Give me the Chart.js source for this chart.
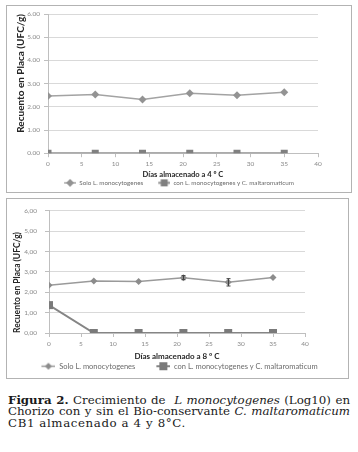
<!DOCTYPE html>
<html><head><meta charset="utf-8">
<script src="https://cdn.jsdelivr.net/npm/chart.js@4.4.0/dist/chart.umd.min.js"></script>
<style>
html,body{margin:0;padding:0;background:#fff;width:358px;height:452px;overflow:hidden;position:relative}
.frame{position:absolute;border:1px solid #b3b3b3;box-sizing:border-box;pointer-events:none}
.cw{position:absolute}
.cw canvas{display:block}
.cap{position:absolute;left:8px;top:395px;width:342px;font-family:'DejaVu Serif',serif;font-size:11.8px;line-height:11.3px;color:#1a1a1a}
.ln{white-space:nowrap;text-align:justify;text-align-last:justify}
.l3{white-space:nowrap;letter-spacing:0.6px}
</style></head><body>
<div class="frame" style="left:6px;top:5px;width:346px;height:188px"></div>
<div class="cw" style="left:7px;top:6px;width:343px;height:190px"><canvas id="c1" width="343" height="190"></canvas></div>
<div class="frame" style="left:6px;top:198px;width:343px;height:181px"></div>
<div class="cw" style="left:7px;top:199px;width:340px;height:181px"><canvas id="c2" width="340" height="181"></canvas></div>
<div class="cap">
<div class="ln"><b>Figura 2.</b> Crecimiento de&nbsp; <i>L monocytogenes</i> (Log10) en</div>
<div class="ln">Chorizo con y sin el Bio-conservante <i>C. maltaromaticum</i></div>
<div class="l3">CB1 almacenado a 4 y 8°C.</div>
</div>
<script>
// ---- data ----
const days = [0, 7, 14, 21, 28, 35];
const seriesNames = ['Solo L. monocytogenes', 'con L. monocytogenes y C. maltaromaticum'];
const solo4 = [2.47, 2.53, 2.32, 2.58, 2.50, 2.63];
const con4 = [0, 0, 0, 0, 0, 0];
const solo8 = [2.35, 2.56, 2.53, 2.72, 2.49, 2.73];
const con8 = [1.37, 0, 0, 0, 0, 0];
const err8 = [0, 0, 0, 0.10, 0.18, 0];
const yTicks4 = ['0.00', '1.00', '2.00', '3.00', '4.00', '5.00', '6.00'];
const yTicks8 = ['0,00', '1,00', '2,00', '3,00', '4,00', '5,00', '6,00'];
const xTitle4 = 'Días almacenado a 4 º C';
const xTitle8 = 'Días almacenado a 8 º C';
const yTitle = 'Recuento en Placa (UFC/g)';

// ---- styles ----
const F = "Lato, 'Liberation Sans', sans-serif";
const TC = '#8a8a8a', AX = '#bfbfbf', GC = '#d9d9d9';

function legendImg(blank, lineW, lineColor, lineWidth, markColor, style, r) {
  const c = document.createElement('canvas');
  c.width = blank + lineW; c.height = Math.ceil(2 * r + 2);
  const g = c.getContext('2d');
  const cy = c.height / 2;
  g.strokeStyle = lineColor; g.lineWidth = lineWidth;
  g.beginPath(); g.moveTo(blank, cy); g.lineTo(blank + lineW, cy); g.stroke();
  const cx = blank + lineW / 2;
  g.fillStyle = markColor; g.beginPath();
  if (style === 'rectRot') { g.moveTo(cx, cy - r); g.lineTo(cx + r, cy); g.lineTo(cx, cy + r); g.lineTo(cx - r, cy); g.closePath(); }
  else { g.rect(cx - r, cy - r, 2 * r, 2 * r); }
  g.fill();
  return c;
}

const errBars = {
  id: 'errBars',
  afterDatasetsDraw(chart, args, opts) {
    if (!opts || !opts.err) return;
    const xs = chart.scales.x, ys = chart.scales.y, ctx = chart.ctx;
    ctx.save(); ctx.strokeStyle = '#404040'; ctx.lineWidth = 1;
    opts.err.forEach((e, i) => {
      if (!e) return;
      const x = Math.round(xs.getPixelForValue(days[i])) + 0.5;
      const yt = ys.getPixelForValue(opts.values[i] + e), yb = ys.getPixelForValue(opts.values[i] - e);
      ctx.beginPath();
      ctx.moveTo(x, yt); ctx.lineTo(x, yb);
      ctx.moveTo(x - 2, yt); ctx.lineTo(x + 2, yt);
      ctx.moveTo(x - 2, yb); ctx.lineTo(x + 2, yb);
      ctx.stroke();
    });
    ctx.restore();
  }
};

function build(id, o) {
  const imgs = [
    legendImg(o.blank, o.lw, o.c1l, 1.5, o.c1m, 'rectRot', o.r1),
    legendImg(o.blank, o.lw, o.c2l, 2, o.c2m, 'rect', o.sq)
  ];
  new Chart(document.getElementById(id), {
    type: 'line',
    data: {
      datasets: [
        { label: seriesNames[0], data: days.map((d, i) => ({ x: d, y: o.solo[i] })),
          borderColor: o.c1l, backgroundColor: o.c1m, pointBackgroundColor: o.c1m, pointBorderColor: o.c1m,
          pointStyle: 'rectRot', pointRadius: o.r1, pointBorderWidth: 0, borderWidth: o.w1, tension: 0 },
        { label: seriesNames[1], data: days.map((d, i) => ({ x: d, y: o.con[i] })),
          borderColor: o.c2l, backgroundColor: o.c2m, pointBackgroundColor: o.c2m, pointBorderColor: o.c2m,
          pointStyle: 'rect', pointRadius: o.sq * Math.SQRT2, pointBorderWidth: 0, borderWidth: o.w2, tension: 0 }
      ]
    },
    options: {
      responsive: false, animation: false, events: [],
      layout: { padding: { left: 0, right: o.rp, top: 8, bottom: 0 } },
      scales: {
        x: { type: 'linear', min: 0, max: 40,
          ticks: { stepSize: 5, font: { size: 6.5, family: F }, color: TC, padding: o.xtp, maxRotation: 0 },
          grid: { drawOnChartArea: false, drawTicks: true, tickLength: 4, color: AX },
          border: { color: AX },
          title: { display: true, text: o.xTitle, font: { size: o.xtf, weight: 'bold', family: F }, color: '#262626', padding: { top: 0, bottom: 0 } },
          afterFit: s => { s.height = o.xh; } },
        y: { min: 0, max: 6,
          ticks: { stepSize: 1, font: { size: 6.5, family: F }, color: TC, padding: o.ytp, callback: v => o.yTicks[Math.round(v)] },
          grid: { color: GC, tickLength: 4, tickColor: AX },
          border: { color: AX },
          title: { display: true, text: yTitle, align: o.yalign, font: { size: o.ytf, weight: 'bold', family: F }, color: '#262626', padding: { top: o.ytpad, bottom: 0 } },
          afterFit: s => { s.width = o.yw; } },
        y2: { position: 'right', display: true, ticks: { display: false }, grid: { display: false, drawTicks: false }, border: { display: false },
          afterFit: s => { s.width = o.dw; } }
      },
      plugins: {
        legend: { position: 'bottom',
          labels: { usePointStyle: true, pointStyleWidth: o.blank + o.lw, padding: 1, boxHeight: o.lf,
            font: { size: o.lf, family: F }, color: '#6b6b6b',
            generateLabels: chart => Chart.defaults.plugins.legend.labels.generateLabels(chart).map((it, i) => { it.pointStyle = imgs[i]; return it; }) } },
        tooltip: { enabled: false },
        errBars: o.err ? { values: o.solo, err: o.err } : {}
      }
    },
    plugins: [errBars]
  });
}

build('c1', { solo: solo4, con: con4, err: null, yTicks: yTicks4, xTitle: xTitle4,
  c1l: '#a3a3a3', c1m: '#939393', c2l: '#8f8f8f', c2m: '#808080', r1: 4, sq: 3.5, w1: 1.5, w2: 2,
  rp: 13, dw: 19, xh: 25.5, xtp: 2.5, xtf: 7.6, ytp: 4, ytf: 10, ytpad: 8, yalign: 'end', yw: 41, lf: 6.3, blank: 14, lw: 12 });
build('c2', { solo: solo8, con: con8, err: err8, yTicks: yTicks8, xTitle: xTitle8,
  c1l: '#9a9a9a', c1m: '#8c8c8c', c2l: '#858585', c2m: '#7a7a7a', r1: 3.5, sq: 4, w1: 1.5, w2: 2,
  rp: 15, dw: 27, xh: 28.5, xtp: 3.5, xtf: 8, ytp: 8, ytf: 8.5, ytpad: 5, yalign: 'start', yw: 42, lf: 7.5, blank: 20, lw: 14 });
</script>
</body></html>
